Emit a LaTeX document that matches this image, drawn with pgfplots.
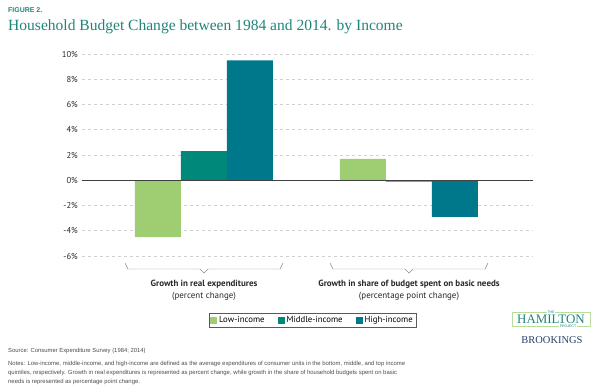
\documentclass[border=0pt]{standalone}
\usepackage{fontspec}
\setmainfont{PT Sans}
\newfontfamily\titlefont{Liberation Serif}
\newfontfamily\notefont{Liberation Sans}
\usepackage{pgfplots}
\pgfplotsset{compat=1.18}
\definecolor{lowc}{RGB}{158,206,113}
\definecolor{midc}{RGB}{0,137,122}
\definecolor{highc}{RGB}{0,120,140}
\definecolor{tealt}{RGB}{31,133,121}
\definecolor{brk}{RGB}{40,62,105}
\definecolor{txt}{RGB}{40,40,40}
\begin{document}
\begin{tikzpicture}
\path[use as bounding box] (0bp,0bp) rectangle (600bp,392bp);
\begin{axis}[
  at={(82bp,136bp)}, anchor=south west, scale only axis,
  width=451bp, height=202bp,
  xmin=-0.595, xmax=1.605, ymin=-6, ymax=10,
  axis line style={draw=none},
  xtick=\empty,
  ytick={-6,-4,-2,0,2,4,6,8,10},
  yticklabels={-6\%,-4\%,-2\%,0\%,2\%,4\%,6\%,8\%,10\%},
  major tick length=0pt,
  yticklabel style={font=\fontsize{8.6}{10}\selectfont, text=txt, inner sep=0pt, xshift=-4bp},
  ymajorgrids,
  major grid style={draw=black!18, line width=0.6pt, dash pattern=on 3bp off 3bp},
  clip=false,
  legend style={at={(0.511,-0.317)}, anchor=center, draw=black!65, line width=0.5pt,
    legend columns=3, font=\fontsize{8.8}{10}\selectfont, inner sep=1.2bp,
    /tikz/every even column/.append style={column sep=11bp}},
  legend cell align=left,
]
\addplot[ybar, bar width=0.2244, bar shift=-0.2244, fill=lowc, draw=none,
  legend image code/.code={\fill[lowc] (0bp,-3.5bp) rectangle (7bp,3.5bp);}]
  coordinates {(0,-4.5) (1,1.7)};
\addlegendentry{Low-income}
\addplot[ybar, bar width=0.2244, bar shift=0, fill=midc, draw=none,
  legend image code/.code={\fill[midc] (0bp,-3.5bp) rectangle (7bp,3.5bp);}]
  coordinates {(0,2.3) (1,-0.1)};
\addlegendentry{Middle-income}
\addplot[ybar, bar width=0.2244, bar shift=0.2244, fill=highc, draw=none,
  legend image code/.code={\fill[highc] (0bp,-3.5bp) rectangle (7bp,3.5bp);}]
  coordinates {(0,9.5) (1,-2.9)};
\addlegendentry{High-income}
\draw[black!75, line width=0.9pt] (axis cs:-0.595,0) -- (axis cs:1.605,0);
\end{axis}
\begin{scope}[x=1bp,y=1bp]
% brackets
\draw[black!45, line width=0.5pt] (125,129) -- (128,123) -- (200,123) -- (204,119) -- (208,123) -- (280,123) -- (283,129);
\draw[black!45, line width=0.5pt] (330,129) -- (333,123) -- (405,123) -- (409,119) -- (413,123) -- (485,123) -- (488,129);
\node[anchor=base, font=\fontsize{9}{10}\selectfont\bfseries, text=txt] at (204,106) {Growth in real expenditures};
\node[anchor=base, font=\fontsize{9}{10}\selectfont, text=txt] at (204,94) {(percent change)};
\node[anchor=base, font=\fontsize{9}{10}\selectfont\bfseries, text=txt] at (409,106) {Growth in share of budget spent on basic needs};
\node[anchor=base, font=\fontsize{9}{10}\selectfont, text=txt] at (409,94) {(percentage point change)};
% titles
\node[anchor=base west, inner sep=0pt, font=\notefont\bfseries\fontsize{7}{8}\selectfont, text=tealt] at (8,380) {FIGURE 2.};
\node[anchor=base west, inner sep=0pt, font=\titlefont\fontsize{15.6}{18}\selectfont, text=tealt] at (8,362) {Household Budget Change between 1984 and 2014. by Income};
% source and notes
\node[anchor=base west, inner sep=0pt, font=\notefont\fontsize{5.9}{8}\selectfont, text=black!70] at (8,40) {Source: Consumer Expenditure Survey (1984; 2014)};
\node[anchor=base west, inner sep=0pt, font=\notefont\fontsize{5.95}{8}\selectfont, text=black!70] at (8,27) {Notes: Low-income, middle-income, and high-income are defined as the average expenditures of consumer units in the bottom, middle, and top income};
\node[anchor=base west, inner sep=0pt, font=\notefont\fontsize{5.95}{8}\selectfont, text=black!70] at (8,18) {quintiles, respectively. Growth in real expenditures is  represented as percent change, while growth in the share of household budgets spent on basic};
\node[anchor=base west, inner sep=0pt, font=\notefont\fontsize{5.95}{8}\selectfont, text=black!70] at (8,9) {needs is represented as percentage point change.};
% logo
\draw[lowc!70, line width=0.6pt] (512,80) rectangle (590,66);
\node[fill=white, inner sep=0.5pt, font=\notefont\fontsize{3.5}{4}\selectfont, text=tealt] at (551,80) {THE};
\node[fill=white, inner sep=0.5pt, font=\notefont\fontsize{3.5}{4}\selectfont, text=tealt] at (568,66) {PROJECT};
\node[anchor=base, inner sep=0pt, font=\titlefont\fontsize{13}{14}\selectfont, text=tealt] at (551,69) {HAMILTON};
\node[anchor=base, inner sep=0pt, font=\titlefont\fontsize{10.5}{12}\selectfont, text=brk] at (552,49) {BROOKINGS};
\end{scope}
\end{tikzpicture}
\end{document}
